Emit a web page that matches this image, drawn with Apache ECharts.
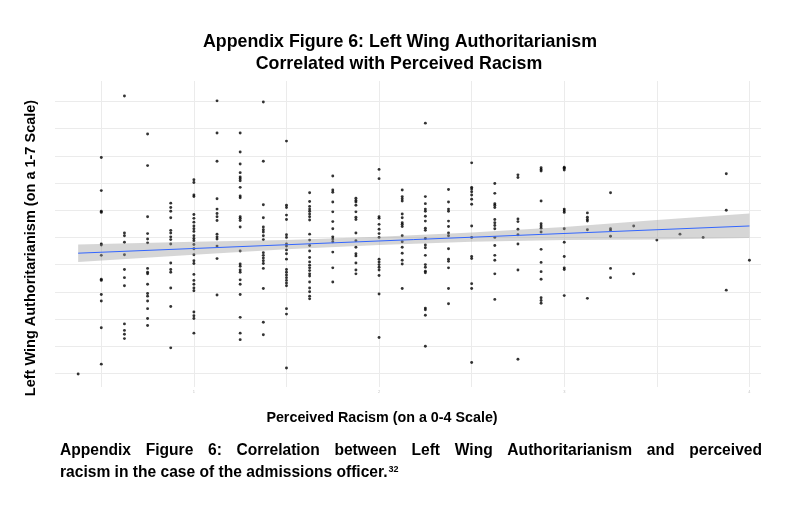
<!DOCTYPE html>
<html>
<head>
<meta charset="utf-8">
<script src="https://cdn.jsdelivr.net/npm/echarts@6/dist/echarts.min.js"></script>
<style>
  html, body { margin: 0; padding: 0; background: #fff; }
  #chart { width: 786px; height: 508px; }
</style>
</head>
<body>
<div id="chart"></div>
<script>
// perceived racism score of each column of dots (0-4 scale)
const racismLevels = [0.375, 0.5, 0.625, 0.75, 0.875, 1, 1.125, 1.25, 1.375, 1.5, 1.625, 1.75, 1.875, 2,
  2.125, 2.25, 2.375, 2.5, 2.625, 2.75, 2.875, 3, 3.125, 3.25, 3.375, 3.5, 3.625, 3.75, 3.875, 4];

// left wing authoritarianism scores
const lwaByLevel = [
  [1.49],
  [5.47, 4.86, 4.48, 4.46, 3.88, 3.86, 3.67, 3.23, 3.21, 2.95, 2.83, 2.34, 1.67],
  [6.60, 4.08, 4.03, 3.91, 3.68, 3.41, 3.26, 3.11, 2.41, 2.29, 2.22, 2.14],
  [5.90, 5.32, 4.38, 4.07, 3.97, 3.90, 3.43, 3.36, 3.33, 3.14, 2.97, 2.92, 2.83, 2.69, 2.51, 2.38],
  [4.63, 4.55, 4.48, 4.36, 4.13, 4.08, 4.01, 3.96, 3.88, 3.53, 3.41, 3.36, 3.07, 2.73, 1.97],
  [5.06, 5.01, 4.78, 4.75, 4.42, 4.35, 4.28, 4.21, 4.16, 4.11, 4.03, 3.98, 3.94, 3.87, 3.79, 3.68, 3.57, 3.52,
   3.32, 3.21, 3.14, 3.07, 3.02, 2.63, 2.56, 2.51, 2.24],
  [6.51, 5.92, 5.40, 4.71, 4.52, 4.44, 4.38, 4.31, 4.06, 4.01, 3.97, 3.84, 3.61, 2.94],
  [5.92, 5.57, 5.35, 5.19, 5.11, 5.08, 5.04, 4.92, 4.76, 4.73, 4.38, 4.35, 4.31, 4.19, 3.75, 3.51, 3.47, 3.40,
   3.36, 3.22, 3.14, 2.95, 2.53, 2.24, 2.12],
  [6.49, 5.40, 4.60, 4.36, 4.19, 4.14, 4.10, 4.03, 3.96, 3.72, 3.67, 3.62, 3.57, 3.52, 3.43, 3.06, 2.44, 2.21],
  [5.77, 4.59, 4.55, 4.41, 4.33, 4.05, 4.00, 3.88, 3.84, 3.77, 3.70, 3.60, 3.41, 3.36, 3.31, 3.26, 3.21, 3.16,
   3.11, 2.69, 2.59, 1.60],
  [4.82, 4.66, 4.57, 4.52, 4.48, 4.43, 4.38, 4.32, 4.06, 3.95, 3.85, 3.75, 3.63, 3.55, 3.49, 3.44, 3.39, 3.33,
   3.29, 3.18, 3.07, 3.00, 2.92, 2.87],
  [5.13, 4.87, 4.83, 4.65, 4.47, 4.29, 4.16, 4.01, 3.97, 3.92, 3.73, 3.44, 3.18],
  [4.72, 4.68, 4.65, 4.59, 4.47, 4.37, 4.33, 4.08, 3.94, 3.82, 3.70, 3.66, 3.53, 3.40, 3.33],
  [5.25, 5.08, 4.38, 4.35, 4.24, 4.15, 4.07, 4.00, 3.60, 3.55, 3.50, 3.45, 3.40, 3.30, 2.96, 2.16],
  [4.87, 4.75, 4.71, 4.67, 4.43, 4.36, 4.27, 4.24, 4.20, 4.03, 3.92, 3.82, 3.71, 3.58, 3.51, 3.06],
  [6.10, 4.75, 4.62, 4.52, 4.48, 4.39, 4.30, 4.17, 4.13, 3.98, 3.86, 3.81, 3.67, 3.50, 3.45, 3.38, 3.35, 2.70,
   2.67, 2.57, 2.00],
  [4.88, 4.65, 4.52, 4.48, 4.30, 4.20, 4.08, 4.03, 3.79, 3.60, 3.56, 3.44, 3.06, 2.78],
  [5.37, 4.92, 4.89, 4.84, 4.78, 4.70, 4.61, 4.21, 4.00, 3.65, 3.61, 3.15, 3.06, 1.70],
  [4.99, 4.81, 4.62, 4.59, 4.55, 4.33, 4.27, 4.22, 4.16, 4.00, 3.85, 3.67, 3.58, 3.33, 2.86],
  [5.15, 5.10, 4.34, 4.29, 4.15, 4.05, 3.88, 3.40, 1.76],
  [5.28, 5.25, 5.22, 4.67, 4.25, 4.21, 4.17, 4.10, 3.78, 3.54, 3.37, 3.23, 2.89, 2.84, 2.79],
  [5.29, 5.27, 5.24, 4.52, 4.49, 4.46, 4.16, 3.91, 3.65, 3.44, 3.41, 2.93],
  [4.45, 4.37, 4.33, 4.30, 4.14, 2.88],
  [4.82, 4.16, 4.13, 4.02, 3.43, 3.26],
  [4.21, 3.33],
  [3.95],
  [4.06],
  [4.00],
  [5.17, 4.50, 3.03],
  [3.58]
];

// fitted line and its confidence band
const fitX = [0.375, 4];
const fitY = [3.71, 4.21];
const bandX = [0.375, 1, 1.5, 2, 2.5, 3, 3.5, 4];
const bandLower = [3.55, 3.68, 3.78, 3.86, 3.92, 3.95, 3.96, 3.99];
const bandUpper = [3.87, 3.92, 3.95, 4.01, 4.09, 4.19, 4.32, 4.44];

const xTickLabels = ['1', '2', '3', '4'];

const titleLines = ['Appendix Figure 6: Left Wing Authoritarianism', 'Correlated with Perceived Racism'];
const captionLine1 = 'Appendix Figure 6: Correlation between Left Wing Authoritarianism and perceived';
const captionLine2 = 'racism in the case of the admissions officer.';
const footnoteMark = '32';

const points = [];
racismLevels.forEach((x, i) => {
  lwaByLevel[i].forEach((y) => points.push([x, y]));
});

const font = '"Liberation Sans", Arial, sans-serif';
const gridColor = '#ebebeb';
const none = 'rgba(0,0,0,0)';

// the caption's first line is justified across the page width
const captionFont = 'bold 15.6px ' + font;
const measureCtx = document.createElement('canvas').getContext('2d');
measureCtx.font = captionFont;
const capLeft = 60, capRight = 762;
const words = captionLine1.split(' ');
const wordWidths = words.map((w) => measureCtx.measureText(w).width);
const gap = (capRight - capLeft - wordWidths.reduce((a, b) => a + b, 0)) / (words.length - 1);
const captionWords = [];
let cx = capLeft;
words.forEach((w, i) => {
  captionWords.push({
    type: 'text', x: cx, y: 459,
    style: { text: w, font: captionFont, fill: '#000', textVerticalAlign: 'bottom' }
  });
  cx += wordWidths[i] + gap;
});
const line2Width = measureCtx.measureText(captionLine2).width;

const chart = echarts.init(document.getElementById('chart'), null, { renderer: 'canvas' });

chart.setOption({
  animation: false,
  backgroundColor: '#fff',
  grid: { left: 55, right: 25, top: 81, bottom: 121, containLabel: false },
  xAxis: {
    type: 'value',
    min: 0.25,
    max: 4.0625,
    interval: 0.25,
    axisLine: { show: false },
    axisTick: { show: false },
    axisLabel: {
      fontSize: 4,
      color: '#c4c4c4',
      margin: 3,
      fontFamily: font,
      showMaxLabel: false,
      formatter: (v) => {
        const s = String(v);
        return xTickLabels.includes(s) ? s : '';
      }
    },
    splitLine: { show: true, lineStyle: { color: [none, gridColor], width: 1 } }
  },
  yAxis: {
    type: 'value',
    min: 1.25,
    max: 6.875,
    interval: 0.125,
    axisLine: { show: false },
    axisTick: { show: false },
    axisLabel: { show: false },
    splitLine: { show: true, lineStyle: { color: [none, none, gridColor, none], width: 1 } }
  },
  graphic: [
    {
      type: 'text', x: 400, y: 42,
      style: {
        text: titleLines[0], font: 'bold 17.8px ' + font, fill: '#000',
        textAlign: 'center', textVerticalAlign: 'middle'
      }
    },
    {
      type: 'text', x: 399, y: 64,
      style: {
        text: titleLines[1], font: 'bold 17.8px ' + font, fill: '#000',
        textAlign: 'center', textVerticalAlign: 'middle'
      }
    },
    {
      type: 'text', x: 31, y: 248, rotation: Math.PI / 2,
      style: {
        text: 'Left Wing Authoritarianism (on a 1-7 Scale)',
        font: 'bold 14.5px ' + font, fill: '#000', textAlign: 'center', textVerticalAlign: 'middle'
      }
    },
    {
      type: 'text', x: 382, y: 418,
      style: {
        text: 'Perceived Racism (on a 0-4 Scale)',
        font: 'bold 14.3px ' + font, fill: '#000', textAlign: 'center', textVerticalAlign: 'middle'
      }
    },
    ...captionWords,
    {
      type: 'text', x: capLeft, y: 481,
      style: { text: captionLine2, font: captionFont, fill: '#000', textVerticalAlign: 'bottom' }
    },
    {
      type: 'text', x: capLeft + line2Width + 1, y: 474,
      style: { text: footnoteMark, font: 'bold 9px ' + font, fill: '#000', textVerticalAlign: 'bottom' }
    }
  ],
  series: [
    {
      type: 'scatter',
      data: points,
      symbolSize: 2.9,
      itemStyle: { color: '#000' },
      silent: true,
      z: 2
    },
    {
      type: 'custom',
      data: [0],
      silent: true,
      z: 3,
      renderItem: (params, api) => {
        const upper = bandX.map((x, i) => api.coord([x, bandUpper[i]]));
        const lower = bandX.map((x, i) => api.coord([x, bandLower[i]])).reverse();
        return {
          type: 'polygon',
          shape: { points: upper.concat(lower) },
          style: { fill: 'rgba(153,153,153,0.4)' }
        };
      }
    },
    {
      type: 'line',
      data: fitX.map((x, i) => [x, fitY[i]]),
      symbol: 'none',
      lineStyle: { color: '#3366FF', width: 1 },
      silent: true,
      z: 4
    }
  ]
});
</script>
</body>
</html>
